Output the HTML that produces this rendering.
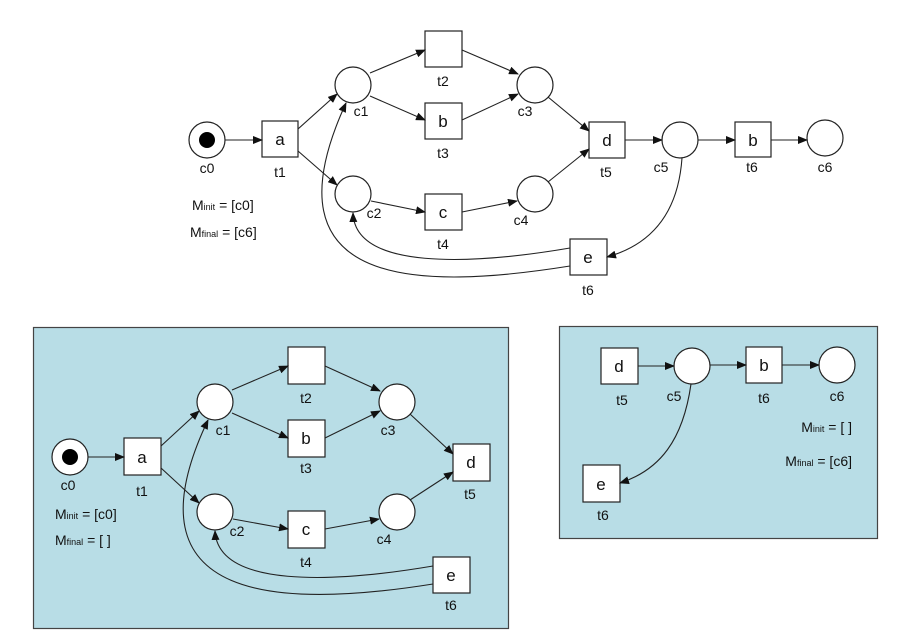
<!DOCTYPE html>
<html><head><meta charset="utf-8"><style>
html,body{margin:0;padding:0;background:#fff}
svg{display:block}
text{font-family:"Liberation Sans",Arial,sans-serif;fill:#111}
.n{font-size:14px;text-anchor:middle}
.b{font-size:17px;text-anchor:middle}
.m{font-size:14px}
.s{font-size:9px}
</style></head><body>
<svg width="897" height="634" viewBox="0 0 897 634" xmlns="http://www.w3.org/2000/svg">
<defs><marker id="a" markerWidth="10" markerHeight="8" refX="9" refY="4" orient="auto" markerUnits="userSpaceOnUse"><path d="M0,0 L10,4 L0,8 z" fill="#111"/></marker></defs>
<g stroke="#222" stroke-width="1.2" fill="none">
<!-- panels -->
<rect x="33.5" y="327.5" width="475" height="301" fill="#b8dde6" stroke="#444"/>
<rect x="559.5" y="326.5" width="318" height="212" fill="#b8dde6" stroke="#444"/>
</g>
<!-- TOP -->
<g stroke="#222" stroke-width="1.2" fill="#fff">
<circle cx="207" cy="140" r="18"/><circle cx="353" cy="85" r="18"/><circle cx="353" cy="194" r="18"/>
<circle cx="535" cy="85" r="18"/><circle cx="535" cy="194" r="18"/><circle cx="680" cy="140" r="18"/><circle cx="825" cy="138" r="18"/>
<rect x="262" y="121" width="36" height="36"/><rect x="425" y="31" width="37" height="36"/><rect x="425" y="103" width="37" height="36"/>
<rect x="425" y="194" width="37" height="36"/><rect x="589" y="122" width="36" height="36"/><rect x="735" y="122" width="36" height="35"/><rect x="570" y="239" width="37" height="36"/>
</g>
<circle cx="207" cy="140" r="8" fill="#000"/>
<g stroke="#222" stroke-width="1.1" fill="none" marker-end="url(#a)">
<line x1="225" y1="140" x2="262" y2="140"/>
<line x1="298" y1="129" x2="337" y2="94"/><line x1="298" y1="151" x2="337" y2="185"/>
<line x1="370" y1="73" x2="425" y2="50"/><line x1="370" y1="96" x2="425" y2="120"/>
<line x1="462" y1="50" x2="518" y2="74"/><line x1="462" y1="120" x2="518" y2="94"/>
<line x1="371" y1="201" x2="425" y2="212"/><line x1="462" y1="212" x2="517" y2="201"/>
<line x1="548" y1="97" x2="589" y2="131"/><line x1="548" y1="182" x2="589" y2="149"/>
<line x1="625" y1="140" x2="662" y2="140"/><line x1="698" y1="140" x2="735" y2="140"/><line x1="771" y1="140" x2="807" y2="140"/>
<path d="M682,158 C678,215 650,245 607,257"/>
<path d="M570,248 C470,265 355,270 353,213"/>
<path d="M570,266 C420,290 260,290 346,103"/>
</g>
<g class="n">
<text class="n" x="207" y="173">c0</text><text class="n" x="280" y="177">t1</text><text class="n" x="361" y="116">c1</text>
<text class="n" x="443" y="86">t2</text><text class="n" x="443" y="158">t3</text><text class="n" x="374" y="218">c2</text>
<text class="n" x="443" y="249">t4</text><text class="n" x="525" y="116">c3</text><text class="n" x="521" y="225">c4</text>
<text class="n" x="606" y="177">t5</text><text class="n" x="661" y="172">c5</text><text class="n" x="752" y="172">t6</text>
<text class="n" x="825" y="172">c6</text><text class="n" x="588" y="295">t6</text>
</g>
<text class="b" x="280" y="145">a</text><text class="b" x="443" y="127">b</text><text class="b" x="443" y="218">c</text>
<text class="b" x="607" y="146">d</text><text class="b" x="753" y="146">b</text><text class="b" x="588" y="263">e</text>
<text class="m" x="192" y="210">M<tspan class="s">init</tspan> = [c0]</text>
<text class="m" x="190" y="237">M<tspan class="s">final</tspan> = [c6]</text>
<!-- BOTTOM LEFT -->
<g stroke="#222" stroke-width="1.2" fill="#fff">
<circle cx="70" cy="457" r="18"/><circle cx="215" cy="402" r="18"/><circle cx="215" cy="512" r="18"/>
<circle cx="397" cy="402" r="18"/><circle cx="397" cy="512" r="18"/>
<rect x="124" y="438" width="37" height="37"/><rect x="288" y="347" width="37" height="37"/><rect x="288" y="420" width="37" height="37"/>
<rect x="288" y="511" width="37" height="37"/><rect x="453" y="444" width="37" height="37"/><rect x="433" y="557" width="37" height="36"/>
</g>
<circle cx="70" cy="457" r="8" fill="#000"/>
<g stroke="#222" stroke-width="1.1" fill="none" marker-end="url(#a)">
<line x1="88" y1="457" x2="124" y2="457"/>
<line x1="161" y1="446" x2="199" y2="411"/><line x1="161" y1="468" x2="199" y2="503"/>
<line x1="232" y1="390" x2="288" y2="366"/><line x1="232" y1="413" x2="288" y2="438"/>
<line x1="325" y1="366" x2="380" y2="391"/><line x1="325" y1="438" x2="380" y2="411"/>
<line x1="233" y1="519" x2="288" y2="529"/><line x1="325" y1="529" x2="379" y2="519"/>
<line x1="410" y1="414" x2="453" y2="454"/><line x1="410" y1="500" x2="453" y2="472"/>
<path d="M433,566 C333,583 218,588 215,531"/>
<path d="M433,584 C283,608 120,605 208,420"/>
</g>
<text class="n" x="68" y="490">c0</text><text class="n" x="142" y="496">t1</text><text class="n" x="223" y="435">c1</text>
<text class="n" x="306" y="403">t2</text><text class="n" x="306" y="473">t3</text><text class="n" x="237" y="536">c2</text>
<text class="n" x="306" y="567">t4</text><text class="n" x="388" y="435">c3</text><text class="n" x="384" y="544">c4</text>
<text class="n" x="470" y="499">t5</text><text class="n" x="451" y="610">t6</text>
<text class="b" x="142" y="463">a</text><text class="b" x="306" y="444">b</text><text class="b" x="306" y="535">c</text>
<text class="b" x="471" y="468">d</text><text class="b" x="451" y="581">e</text>
<text class="m" x="55" y="519">M<tspan class="s">init</tspan> = [c0]</text>
<text class="m" x="55" y="545">M<tspan class="s">final</tspan> = [ ]</text>
<!-- RIGHT PANEL -->
<g stroke="#222" stroke-width="1.2" fill="#fff">
<circle cx="692" cy="366" r="18"/><circle cx="837" cy="365" r="18"/>
<rect x="601" y="348" width="37" height="36"/><rect x="746" y="347" width="36" height="36"/><rect x="583" y="465" width="37" height="37"/>
</g>
<g stroke="#222" stroke-width="1.1" fill="none" marker-end="url(#a)">
<line x1="638" y1="366" x2="674" y2="366"/><line x1="710" y1="365" x2="746" y2="365"/><line x1="782" y1="365" x2="819" y2="365"/>
<path d="M691,384 C683,440 660,470 620,483"/>
</g>
<text class="n" x="622" y="405">t5</text><text class="n" x="674" y="401">c5</text><text class="n" x="764" y="403">t6</text>
<text class="n" x="837" y="401">c6</text><text class="n" x="603" y="520">t6</text>
<text class="b" x="619" y="372">d</text><text class="b" x="764" y="371">b</text><text class="b" x="601" y="490">e</text>
<text class="m" x="852" y="432" text-anchor="end">M<tspan class="s">init</tspan> = [ ]</text>
<text class="m" x="852" y="466" text-anchor="end">M<tspan class="s">final</tspan> = [c6]</text>
</svg>
</body></html>
